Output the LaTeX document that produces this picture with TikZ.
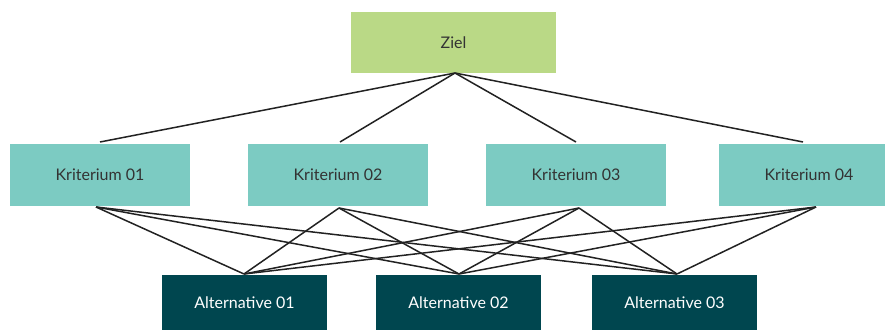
\documentclass[tikz,border=0pt]{standalone}
\usepackage{fontspec}
\setmainfont{Lato}
\definecolor{zielc}{HTML}{BAD986}
\definecolor{kritc}{HTML}{7CCBC2}
\definecolor{altc}{HTML}{00464F}
\definecolor{txtc}{HTML}{333333}
\definecolor{linec}{HTML}{222222}
\begin{document}
\begin{tikzpicture}[x=1pt,y=-1pt,
  box/.style={draw=none,rectangle,inner sep=0pt,font=\fontsize{16}{18}\selectfont},
  zielbox/.style={box,fill=zielc,text=txtc,minimum width=205pt,minimum height=61pt},
  kritbox/.style={box,fill=kritc,text=txtc,minimum width=180pt,minimum height=62pt},
  altbox/.style={box,fill=altc,text=white,minimum width=165pt,minimum height=56pt},
  link/.style={draw=linec,line width=1.5pt}]
\useasboundingbox (0,0) rectangle (885,329);
\clip (0,0) rectangle (885,329);
\node[zielbox] (z) at (453.5,42.5) {Ziel};
\node[kritbox] (k1) at (100,175) {Kriterium 01};
\node[kritbox] (k2) at (338,175) {Kriterium 02};
\node[kritbox] (k3) at (576,175) {Kriterium 03};
\node[kritbox] (k4) at (809,175) {Kriterium 04};
\node[altbox] (a1) at (244.5,303) {Alternative 01};
\node[altbox] (a2) at (458.5,303) {Alternative 02};
\node[altbox] (a3) at (674.5,303) {Alternative 03};
\coordinate (zb) at (455,73);
\coordinate (t1) at (100,142);
\coordinate (t2) at (340,142);
\coordinate (t3) at (576,142);
\coordinate (t4) at (803,142);
\coordinate (b1) at (96,207);
\coordinate (b2) at (339,208);
\coordinate (b3) at (579,208);
\coordinate (b4) at (816,207);
\coordinate (p1) at (244,274);
\coordinate (p2) at (459,274);
\coordinate (p3) at (677,274);
\foreach \t in {t1,t2,t3,t4} \draw[link] (zb) -- (\t);
\foreach \b in {b1,b2,b3,b4} \foreach \p in {p1,p2,p3} \draw[link] (\b) -- (\p);
\end{tikzpicture}
\end{document}
